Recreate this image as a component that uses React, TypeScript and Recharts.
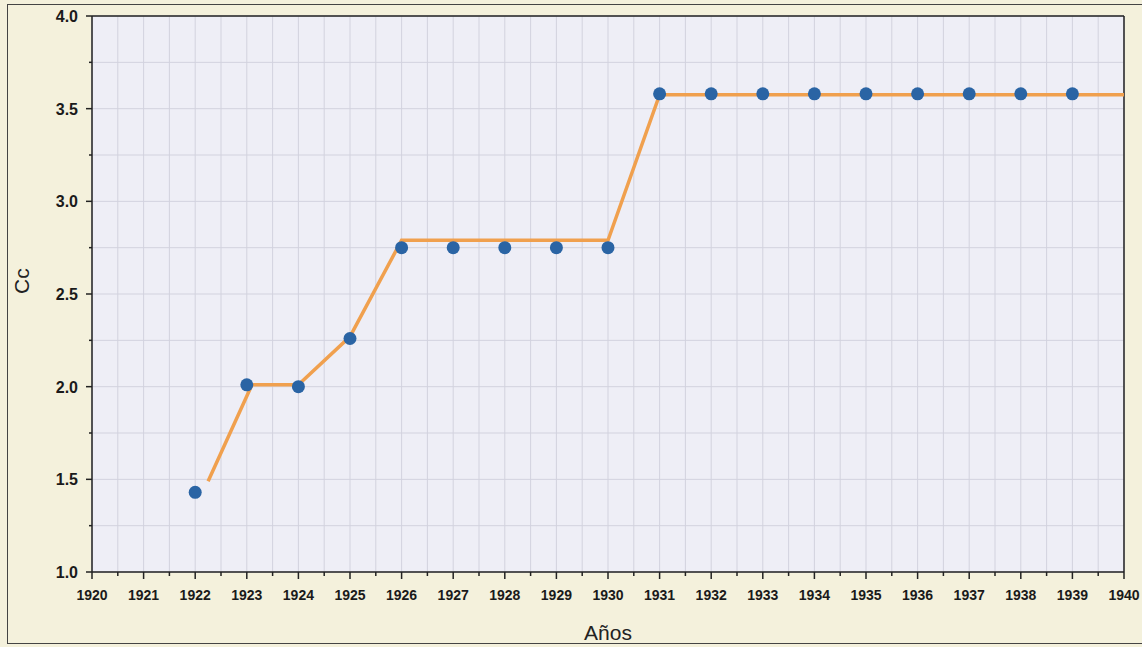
import React from 'react';
import { ComposedChart, Line, Scatter, XAxis, YAxis, CartesianGrid, ReferenceLine } from 'recharts';

const years = [1922, 1923, 1924, 1925, 1926, 1927, 1928, 1929, 1930, 1931, 1932, 1933, 1934, 1935, 1936, 1937, 1938, 1939];
const ccValues = [1.43, 2.01, 2.0, 2.26, 2.75, 2.75, 2.75, 2.75, 2.75, 3.58, 3.58, 3.58, 3.58, 3.58, 3.58, 3.58, 3.58, 3.58];

const fitYears = [1922.25, 1923.1, 1924, 1925, 1926, 1930, 1931, 1940];
const fitValues = [1.49, 2.01, 2.01, 2.27, 2.79, 2.79, 3.575, 3.575];

const xTicks = Array.from({ length: 41 }, (_, i) => 1920 + i * 0.5);
const yTicks = Array.from({ length: 13 }, (_, i) => 1 + i * 0.25);

const points = years.map((x, i) => ({ x, y: ccValues[i] }));
const fit = fitYears.map((x, i) => ({ x, y: fitValues[i] }));

const XTick = (props: any) => {
  const { x, y, payload } = props;
  const v = payload.value;
  const major = Math.abs(v - Math.round(v)) < 1e-6;
  const top = y - 8;
  return (
    <g>
      <line x1={x} x2={x} y1={top} y2={top + (major ? 7 : 4)} stroke="#222" strokeWidth={1.5} />
      {major && (
        <text x={x} y={top + 28} textAnchor="middle" fontFamily="Arial, 'Liberation Sans', sans-serif" fontWeight="bold" fontSize={14} fill="#1a1a1a">
          {v}
        </text>
      )}
    </g>
  );
};

const YTick = (props: any) => {
  const { x, y, payload } = props;
  const v = payload.value;
  const major = Math.abs(v * 2 - Math.round(v * 2)) < 1e-6;
  const ax = x + 14;
  return (
    <g>
      <line x1={ax} x2={ax - (major ? 6 : 3)} y1={y} y2={y} stroke="#222" strokeWidth={1.5} />
      {major && (
        <text x={x} y={y + 6} textAnchor="end" fontFamily="Arial, 'Liberation Sans', sans-serif" fontWeight="bold" fontSize={16} fill="#1a1a1a">
          {v.toFixed(1)}
        </text>
      )}
    </g>
  );
};

export default function App() {
  return (
    <div style={{ position: 'absolute', left: 0, top: 0, width: 1142, height: 647, background: '#F4F1DC' }}>
      <div style={{ position: 'absolute', left: 7, top: 4, width: 1140, height: 640, border: '1.5px solid #444', borderRight: 'none', boxSizing: 'border-box' }} />
      <ComposedChart width={1142} height={647} margin={{ top: 16, right: 18, bottom: 0, left: 0 }} style={{ position: 'absolute', left: 0, top: 0 }}>
        <CartesianGrid stroke="#D2D2DE" strokeWidth={1} fill="#EEEEF6" fillOpacity={1} verticalValues={xTicks} horizontalValues={yTicks} />
        <XAxis
          type="number"
          dataKey="x"
          domain={[1920, 1940]}
          ticks={xTicks}
          interval={0}
          height={75}
          tickLine={false}
          tickSize={0}
          tickMargin={8}
          tick={<XTick />}
          axisLine={{ stroke: '#222', strokeWidth: 1.5 }}
          allowDecimals
          label={{ value: 'Años', position: 'insideBottom', offset: 7, fontFamily: 'Arial, sans-serif', fontSize: 21, fill: '#222' }}
        />
        <YAxis
          type="number"
          dataKey="y"
          domain={[1, 4]}
          ticks={yTicks}
          interval={0}
          width={92}
          tickLine={false}
          tickSize={6}
          tickMargin={8}
          tick={<YTick />}
          axisLine={{ stroke: '#222', strokeWidth: 1.5 }}
          label={{ value: 'Cc', angle: -90, position: 'insideLeft', offset: 22, fontFamily: 'Arial, sans-serif', fontSize: 21, fill: '#222' }}
        />
        <ReferenceLine y={4} stroke="#222" strokeWidth={1.5} />
        <ReferenceLine x={1940} stroke="#222" strokeWidth={1.5} />
        <Scatter data={points} dataKey="y" fill="#2A64A4" shape={(p: any) => <circle cx={p.cx} cy={p.cy} r={6.5} fill="#2A64A4" />} isAnimationActive={false} />
        <Line data={fit} dataKey="y" type="linear" stroke="#F0A04E" strokeWidth={3.5} dot={false} activeDot={false} isAnimationActive={false} />
      </ComposedChart>
    </div>
  );
}
